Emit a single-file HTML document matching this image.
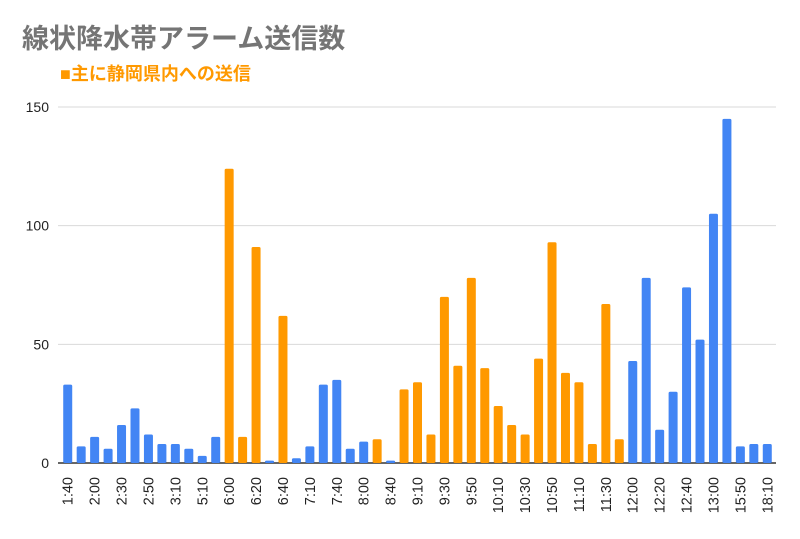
<!DOCTYPE html>
<html><head><meta charset="utf-8">
<style>
body{margin:0;background:#fff;}
svg{display:block;font-family:"Liberation Sans","Noto Sans CJK JP",sans-serif;}
</style></head>
<body>
<svg id="chart" width="800" height="539" viewBox="0 0 800 539">
<text x="22" y="48" font-size="27" font-weight="bold" fill="#757575">線状降水帯アラーム送信数</text>
<text x="60" y="80" font-size="18" font-weight="bold" fill="#ff9900">■主に静岡県内への送信</text>
<g id="grid"></g><g id="bars"></g><g id="xlabels"></g>
</svg>
<script>
const categories=["1:40","","2:00","","2:30","","2:50","","3:10","","5:10","","6:00","","6:20","","6:40","","7:10","","7:40","","8:00","","8:40","","9:10","","9:30","","9:50","","10:10","","10:30","","10:50","","11:10","","11:30","","12:00","","12:20","","12:40","","13:00","","15:50","","18:10"];
const values=[33,7,11,6,16,23,12,8,8,6,3,11,124,11,91,1,62,2,7,33,35,6,9,10,1,31,34,12,70,41,78,40,24,16,12,44,93,38,34,8,67,10,43,78,14,30,74,52,105,145,7,8,8];
const shizuoka=[0,0,0,0,0,0,0,0,0,0,0,0,1,1,1,0,1,0,0,0,0,0,0,1,0,1,1,1,1,1,1,1,1,1,1,1,1,1,1,1,1,1,0,0,0,0,0,0,0,0,0,0,0];
const yTicks=[0,50,100,150];
const NS="http://www.w3.org/2000/svg";
const x0=61,x1=774,yB=463,yT=107,yMax=150;
const step=(x1-x0)/values.length;
const y=v=>yB-(v/yMax)*(yB-yT);
const xc=i=>x0+step*(i+0.5);
function mk(t,a,p){const e=document.createElementNS(NS,t);for(const k in a)e.setAttribute(k,a[k]);p.appendChild(e);return e;}
const grid=document.getElementById('grid');
yTicks.forEach(t=>{
 const l=mk('line',{x1:58,x2:776,y1:y(t),y2:y(t),stroke:t===0?'#333':'#d9d9d9','stroke-width':t===0?1.5:1},grid);
 
 
 const tx=mk('text',{x:49,y:y(t)+5,'text-anchor':'end','font-size':14,fill:'#222'},grid);
 tx.textContent=t;
 
 
});
const bars=document.getElementById('bars'),xl=document.getElementById('xlabels');
values.forEach((v,i)=>{
 const h=Math.max(yB-y(v),1);
 const r=mk('rect',{x:xc(i)-4.5,y:yB-h,width:9,height:h,rx:1.5,fill:shizuoka[i]?'#ff9900':'#4285f4'},bars);
 
 
 if(categories[i]){
  const t=mk('text',{transform:`translate(${xc(i)+5},${477}) rotate(-90)`,'text-anchor':'end','font-size':14.5,fill:'#222'},xl);
  t.textContent=categories[i];
  
  
 }
});
</script>
</body></html>
